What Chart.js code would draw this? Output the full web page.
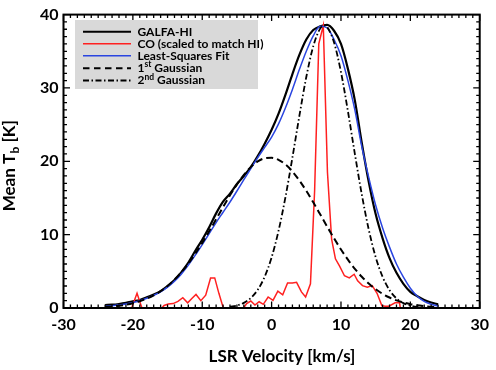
<!DOCTYPE html>
<html>
<head>
<meta charset="utf-8">
<script src="https://cdn.jsdelivr.net/npm/chart.js@4.4.0/dist/chart.umd.min.js"></script>
<style>
  html, body { margin: 0; padding: 0; background: #fff; }
  #wrap { width: 496px; height: 370px; position: relative; }
</style>
</head>
<body>
<div id="wrap"><canvas id="chart"></canvas></div>
<script>
// velocity grid of the HI spectrum and the fits [km/s]
const velocity = [-24, -23, -22, -21, -20, -19, -18, -17, -16, -15, -14, -13, -12, -11, -10, -9, -8, -7, -6, -5, -4, -3, -2, -1,
  0, 1, 2, 3, 4, 5, 6, 7, 8, 9, 10, 11, 12, 13, 14, 15, 16, 17, 18, 19, 20, 21, 22, 23, 24];

// GALFA-HI mean brightness temperature [K]
const galfaHI = [0.40, 0.45, 0.55, 0.70, 0.90, 1.10, 1.45, 1.85, 2.30, 3.00, 3.80, 4.90, 6.20, 7.80, 9.30, 11.0, 12.9, 14.5, 15.6, 16.9, 18.0, 19.2, 20.7, 22.4,
  24.3, 26.5, 29.1, 31.9, 34.5, 36.6, 37.9, 38.4, 38.6, 37.8, 36.0, 32.6, 28.3, 22.5, 17.2, 12.8, 9.5, 6.8, 4.8, 3.3, 2.2, 1.6, 1.1, 0.75, 0.5];

// least-squares fit
const lsqFit = [0.25, 0.32, 0.42, 0.56, 0.75, 1.00, 1.32, 1.72, 2.20, 2.85, 3.65, 4.65, 5.85, 7.20, 8.65, 10.15, 11.65, 13.05, 14.45, 15.95, 17.5, 19.0, 20.5, 21.9,
  23.3, 25.1, 27.3, 29.8, 32.5, 35.0, 37.1, 38.4, 38.2, 36.6, 34.4, 31.0, 27.0, 22.0, 17.8, 14.0, 10.9, 8.3, 6.0, 4.2, 2.7, 1.6, 0.9, 0.5, 0.25];

// 1st (broad) Gaussian component
const gauss1 = [0.14, 0.21, 0.31, 0.45, 0.65, 0.92, 1.27, 1.72, 2.29, 3.00, 3.87, 4.89, 6.07, 7.41, 8.88, 10.46, 12.10, 13.76, 15.36, 16.85, 18.15, 19.21, 19.98, 20.41,
  20.48, 20.19, 19.56, 18.61, 17.39, 15.97, 14.41, 12.77, 11.11, 9.50, 7.98, 6.59, 5.34, 4.26, 3.33, 2.56, 1.93, 1.43, 1.04, 0.75, 0.52, 0.36, 0.25, 0.16, 0.11];

// 2nd (narrow) Gaussian component
const gauss2Vel = [-6, -5, -4, -3, -2, -1, 0, 1, 2, 3, 4, 5, 6, 7, 7.6, 8, 9, 10, 11, 12, 13, 14, 15, 16, 17, 18, 19, 20, 21, 22];
const gauss2 = [0.16, 0.34, 0.70, 1.36, 2.48, 4.26, 6.90, 10.53, 15.14, 20.51, 26.18, 31.49, 35.67, 38.09, 38.5, 38.31, 36.21, 32.16, 26.83, 21.02,
  15.48, 10.70, 6.95, 4.25, 2.43, 1.31, 0.66, 0.32, 0.14, 0.06];

// CO spectrum, scaled to match HI
const coVel = [-20.8, -20.1, -19.4, -18.7, -18.1, -17.4, -16.8, -16.1, -15.5, -14.9, -14.2, -13.5, -12.8, -12.1, -11.5, -10.9, -10.2, -9.5, -8.8, -8.2,
  -7.6, -7.0, -6.4, -5.7, -5.1, -4.4, -3.6, -3.0, -2.4, -1.8, -1.2, -0.5, 0.2, 0.9, 1.6, 2.3, 3.0, 3.6, 4.3, 4.9, 5.6, 6.2, 6.8, 7.45, 8.05, 8.65,
  9.2, 9.8, 10.5, 11.2, 11.9, 12.4, 13.1, 13.8, 14.5, 15.2, 15.9, 16.4, 16.9, 17.8, 18.45, 19.1];
const coTemp = [-1.0, 0.2, 2.0, 0.0, -0.8, -1.0, -0.6, -0.3, 0.35, 0.55, 0.6, 0.9, 1.4, 0.7, 1.3, 1.85, 1.0, 1.75, 4.1, 4.1,
  2.0, 0.1, -0.6, -1.0, -0.8, -0.5, 0.6, 0.95, 0.4, 0.85, 0.5, 1.5, 1.05, 2.3, 1.8, 3.4, 3.4, 3.5, 2.2, 1.5, 3.3, 16.0, 36.0, 38.5, 18.5, 9.4,
  6.7, 5.7, 4.4, 4.1, 4.6, 3.7, 3.05, 2.85, 3.05, 2.0, 0.3, 0.25, 0.25, 0.7, 0.7, -4.0];

// axis ticks
const xTicks = [-30, -20, -10, 0, 10, 20, 30];
const yTicks = [0, 10, 20, 30, 40];

const FONT = 'Lato';

function pts(xs, ys) {
  return xs.map((x, i) => ({ x: x, y: ys[i] }));
}

// legend rows: label parts, line style
const legendRows = [
  { text: ['GALFA-HI'], color: '#000', width: 2, dash: [] },
  { text: ['CO (scaled to match HI)'], color: '#ff2020', width: 1.5, dash: [] },
  { text: ['Least-Squares Fit'], color: '#2a45e0', width: 1.5, dash: [] },
  { text: ['1', 'st', ' Gaussian'], color: '#000', width: 2, dash: [6.5, 4.5] },
  { text: ['2', 'nd', ' Gaussian'], color: '#000', width: 1.8, dash: [6, 2.5, 1.5, 2.5] }
];

const decorations = {
	id: 'decorations',
	afterDraw(chart) {
		const ctx = chart.ctx;
		const a = chart.chartArea;
		const xs = chart.scales.x, ys = chart.scales.y;
		ctx.save();

		// frame
		ctx.strokeStyle = '#000';
		ctx.lineWidth = 2;
		ctx.setLineDash([]);
		ctx.strokeRect(a.left, a.top, a.right - a.left, a.bottom - a.top);

		// inward ticks on all four sides
		ctx.lineWidth = 1.3;
		ctx.beginPath();
		for (let v = xs.min; v <= xs.max; v += 1) {
			const px = xs.getPixelForValue(v);
			const len = (v % 10 === 0) ? 6.5 : 3.5;
			ctx.moveTo(px, a.bottom); ctx.lineTo(px, a.bottom - len);
			ctx.moveTo(px, a.top); ctx.lineTo(px, a.top + len);
		}
		for (let v = ys.min; v <= ys.max; v += 1) {
			const py = ys.getPixelForValue(v);
			const len = (v % 10 === 0) ? 6.5 : 3.5;
			ctx.moveTo(a.left, py); ctx.lineTo(a.left + len, py);
			ctx.moveTo(a.right, py); ctx.lineTo(a.right - len, py);
		}
		ctx.stroke();

		ctx.fillStyle = '#000';

		// x title
		ctx.font = '700 17px ' + FONT;
		ctx.textAlign = 'center';
		ctx.textBaseline = 'alphabetic';
		ctx.fillText('LSR Velocity [km/s]', 282, 361.5);

		// y title with subscript
		ctx.save();
		ctx.translate(15, 166);
		ctx.rotate(-Math.PI / 2);
		ctx.textAlign = 'left';
		const big = '700 17px ' + FONT, small = '700 12px ' + FONT;
		ctx.font = big;
		const w1 = ctx.measureText('Mean T').width;
		const w3 = ctx.measureText(' [K]').width;
		ctx.font = small;
		const w2 = ctx.measureText('b').width;
		const x0 = -(w1 + w2 + w3) / 2;
		ctx.font = big; ctx.fillText('Mean T', x0, 0);
		ctx.font = small; ctx.fillText('b', x0 + w1 + 0.5, 3.5);
		ctx.font = big; ctx.fillText(' [K]', x0 + w1 + w2 + 0.5, 0);
		ctx.restore();

		// legend box
		ctx.fillStyle = '#d9d9d9';
		ctx.fillRect(75, 20, 183, 69);
		const rowY = [31.7, 43.7, 55.7, 68.2, 80.5];
		legendRows.forEach((r, i) => {
			const y = rowY[i];
			ctx.strokeStyle = r.color;
			ctx.lineWidth = r.width;
			ctx.setLineDash(r.dash);
			ctx.beginPath();
			ctx.moveTo(83, y); ctx.lineTo(131, y);
			ctx.stroke();
			ctx.setLineDash([]);
			ctx.fillStyle = '#000';
			ctx.textAlign = 'left';
			ctx.textBaseline = 'middle';
			let x = 137.5;
			r.text.forEach((t, k) => {
				const sup = (r.text.length === 3 && k === 1);
				ctx.font = sup ? '700 8.5px ' + FONT : '700 12px ' + FONT;
				ctx.fillText(t, x, sup ? y - 3.5 : y);
				x += ctx.measureText(t).width;
			});
		});

		ctx.restore();
	}
};

const tickFont = { family: FONT, size: 16, weight: 'bold' };

new Chart(document.getElementById('chart'), {
	type: 'line',
	data: {
		datasets: [
			{ label: 'GALFA-HI', data: pts(velocity, galfaHI), borderColor: '#000', borderWidth: 2.2, cubicInterpolationMode: 'monotone', order: 5 },
			{ label: 'CO (scaled to match HI)', data: pts(coVel, coTemp), borderColor: '#ff2020', borderWidth: 1.5, tension: 0, order: 4 },
			{ label: 'Least-Squares Fit', data: pts(velocity, lsqFit), borderColor: '#2a45e0', borderWidth: 1.5, cubicInterpolationMode: 'monotone', order: 3 },
			{ label: '1st Gaussian', data: pts(velocity, gauss1), borderColor: '#000', borderWidth: 2, borderDash: [7, 4], cubicInterpolationMode: 'monotone', order: 2 },
			{ label: '2nd Gaussian', data: pts(gauss2Vel, gauss2), borderColor: '#000', borderWidth: 1.8, borderDash: [6, 2.5, 1.5, 2.5], cubicInterpolationMode: 'monotone', order: 1 }
		]
	},
	options: {
		responsive: true,
		maintainAspectRatio: false,
		animation: false,
		layout: { padding: { top: 8, right: 8.5, left: 0, bottom: 0 } },
		elements: { point: { radius: 0 }, line: { fill: false } },
		plugins: { legend: { display: false }, tooltip: { enabled: false } },
		scales: {
			x: {
				type: 'linear', min: -30, max: 30,
				afterBuildTicks: s => { s.ticks = xTicks.map(v => ({ value: v })); },
				ticks: { color: '#000', font: tickFont, padding: 7, maxRotation: 0, autoSkip: false },
				grid: { display: false, drawTicks: false },
				border: { display: false },
				afterFit: s => { s.height = 62; }
			},
			y: {
				type: 'linear', min: 0, max: 40,
				afterBuildTicks: s => { s.ticks = yTicks.map(v => ({ value: v })); },
				ticks: { color: '#000', font: tickFont, padding: 5 },
				grid: { display: false, drawTicks: false },
				border: { display: false },
				afterFit: s => { s.width = 63.5; }
			}
		}
	},
	plugins: [decorations]
});
</script>
</body>
</html>
